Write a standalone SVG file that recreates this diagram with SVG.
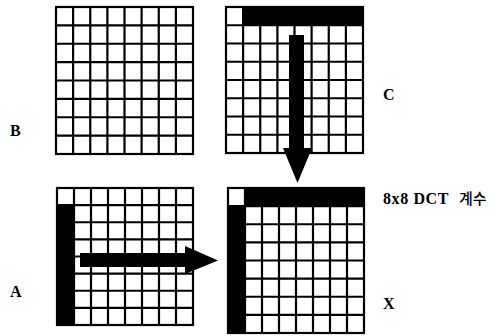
<svg xmlns="http://www.w3.org/2000/svg" width="491" height="336" viewBox="0 0 491 336">
<style>
.grid{fill:#fff;stroke:#000;stroke-width:2.2}
.lines{fill:none;stroke:#000;stroke-width:2.2}
.blk{fill:#000}
.lbl{font-family:"Liberation Serif","Noto Sans CJK KR",serif;font-weight:bold;font-size:16px;fill:#000}
.kr{font-family:"Noto Sans CJK KR",sans-serif;font-weight:500;font-size:15px}
</style>
<rect width="491" height="336" fill="#fff"/>
<g id="gridB">
<rect class="grid" x="56" y="7" width="137" height="147"/>
<path class="lines" d="M73.1 7V154M90.25 7V154M107.4 7V154M124.5 7V154M141.6 7V154M158.75 7V154M175.9 7V154M56 25.4H193M56 43.75H193M56 62.1H193M56 80.5H193M56 98.9H193M56 117.25H193M56 135.6H193"/>
</g>
<g id="gridC">
<rect class="grid" x="226" y="7" width="137" height="146"/>
<path class="lines" d="M243.1 7V153M260.25 7V153M277.4 7V153M294.5 7V153M311.6 7V153M328.75 7V153M345.9 7V153M226 25.25H363M226 43.5H363M226 61.75H363M226 80H363M226 98.25H363M226 116.5H363M226 134.75H363"/>
<rect class="blk" x="243.1" y="7" width="120" height="18.25"/>
</g>
<g id="gridA">
<rect class="grid" x="57" y="188" width="136" height="137"/>
<path class="lines" d="M74 188V325M91 188V325M108 188V325M125 188V325M142 188V325M159 188V325M176 188V325M57 205.1H193M57 222.25H193M57 239.4H193M57 256.5H193M57 273.6H193M57 290.75H193M57 307.9H193"/>
<rect class="blk" x="57" y="205.1" width="17" height="120"/>
</g>
<g id="gridX">
<rect class="grid" x="228" y="188" width="136" height="145"/>
<path class="lines" d="M245 188V333M262 188V333M279 188V333M296 188V333M313 188V333M330 188V333M347 188V333M228 206.1H364M228 224.25H364M228 242.4H364M228 260.5H364M228 278.6H364M228 296.75H364M228 314.9H364"/>
<rect class="blk" x="245" y="188" width="119" height="18.1"/>
<rect class="blk" x="228" y="206.1" width="17" height="126.9"/>
</g>
<g id="connectors">
<path class="blk" d="M289 35H304V148H312L297.5 183L283 148H289Z"/>
<path class="blk" d="M80 253H185V246L218 260.5L185 274V267H80Z"/>
</g>
<g id="labels">
<text class="lbl" x="10" y="136">B</text>
<text class="lbl" x="383" y="100">C</text>
<text class="lbl" x="10" y="297">A</text>
<text class="lbl" x="383" y="309">X</text>
<text class="lbl" x="383" y="204" letter-spacing="0.6">8x8 DCT</text>
<text class="lbl kr" x="459" y="204">계수</text>
</g>
</svg>
